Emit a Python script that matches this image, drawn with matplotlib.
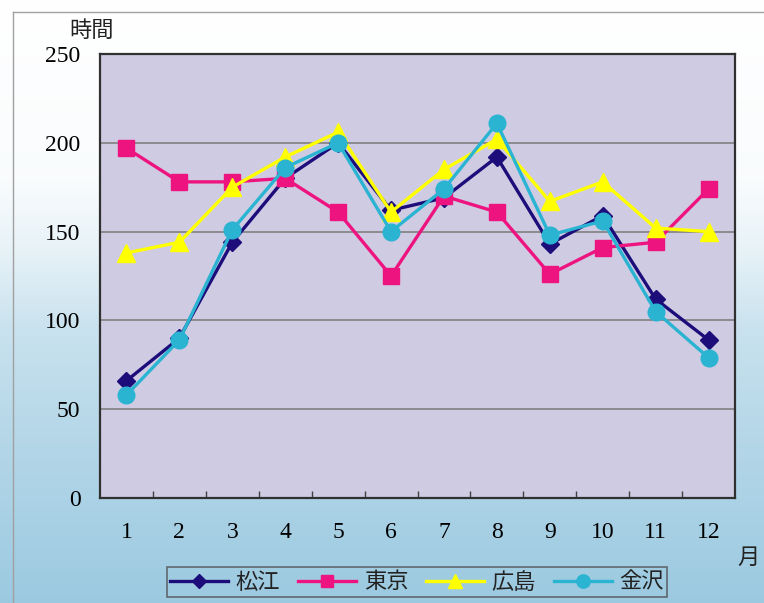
import numpy as np
import matplotlib
matplotlib.use("Agg")
import matplotlib.pyplot as plt

months = ["1", "2", "3", "4", "5", "6", "7", "8", "9", "10", "11", "12"]
matsue = [66, 90, 144, 180, 200, 162, 169, 192, 143, 159, 112, 89]
tokyo = [197, 178, 178, 180, 161, 125, 170, 161, 126, 141, 144, 174]
hiroshima = [138, 144, 175, 192, 206, 161, 185, 202, 167, 178, 152, 150]
kanazawa = [58, 89, 151, 186, 200, 150, 174, 211, 148, 156, 105, 79]
series_names = ["松江", "東京", "広島", "金沢"]
yticks = [0, 50, 100, 150, 200, 250]

JP = ["Noto Sans CJK JP", "DejaVu Sans"]
NUM = ["Liberation Serif", "DejaVu Serif"]

W, H = 764, 603
fig = plt.figure(figsize=(W / 100, H / 100), dpi=100)

# background gradient
bg = fig.add_axes([0, 0, 1, 1], zorder=-10)
bg.set_axis_off()
n = 300
t = np.linspace(0, 1, n)
f = np.interp(t, [0.0, 0.30, 0.42, 0.55, 0.70, 1.0], [0.0, 0.06, 0.25, 0.55, 0.72, 1.0])[:, None]
top = np.array([1.0, 1.0, 1.0])
bot = np.array([0.61, 0.79, 0.88])
img = top[None, None, :] * (1 - f[:, :, None]) + bot[None, None, :] * f[:, :, None]
img = np.repeat(img, 4, axis=1)
bg.imshow(img, aspect="auto", extent=[0, 1, 0, 1], origin="upper")
bg.set_xlim(0, 1)
bg.set_ylim(0, 1)
# outer frame
bg.plot([13 / W, 13 / W], [0, 1 - 12 / H], color="#a0a0a0", lw=1.0)
bg.plot([13 / W, 1], [1 - 12 / H, 1 - 12 / H], color="#a0a0a0", lw=1.0)

ax = fig.add_axes([100 / W, (H - 498) / H, 635 / W, 444 / H])
ax.set_facecolor("#cfcbe3")
x = np.arange(1, len(months) + 1)

ax.plot(x, matsue, color="#1c0d7a", lw=2.4, marker="D", ms=9, label=series_names[0], zorder=3)
ax.plot(x, tokyo, color="#ee1480", lw=2.4, marker="s", ms=11, label=series_names[1], zorder=3)
ax.plot(x, hiroshima, color="#ffff00", lw=2.4, marker="^", ms=13, label=series_names[2], zorder=3)
ax.plot(x, kanazawa, color="#2ab4d2", lw=2.4, marker="o", ms=12, label=series_names[3], zorder=3)

ax.set_xlim(0.5, len(months) + 0.5)
ax.set_ylim(0, 250)
ax.set_yticks(yticks)
ax.set_yticklabels([str(v) for v in yticks], fontsize=17, family=NUM)
ax.tick_params(axis="y", length=0, pad=14)
ax.set_xticks(x)
ax.set_xticklabels(months, fontsize=17, family=NUM)
ax.tick_params(axis="x", which="major", length=0, pad=17)
ax.set_xticks(np.arange(1.5, len(months), 1.0), minor=True)
ax.tick_params(axis="x", which="minor", direction="in", length=5, width=1, color="#404040")
ax.yaxis.grid(True, color="#808080", lw=1.2)
ax.set_axisbelow(True)
for s in ["top", "right", "left", "bottom"]:
    ax.spines[s].set_color("#303030")
    ax.spines[s].set_linewidth(1.6)

fig.text(92 / W, 1 - 30 / H, "時間", family=JP, fontsize=16, ha="center", va="center", color="#222222")
fig.text(748 / W, 1 - 557 / H, "月", family=JP, fontsize=16, ha="center", va="center", color="#222222")

leg = fig.legend(loc="center", bbox_to_anchor=(417 / W, 1 - 582 / H), ncol=4,
                 prop={"family": JP, "size": 16}, frameon=True, fancybox=False,
                 handlelength=2.6, columnspacing=0.8, handletextpad=0.35,
                 borderpad=0.15, markerscale=0.8)
leg.get_frame().set_facecolor("none")
leg.get_frame().set_edgecolor("#505050")
leg.get_frame().set_linewidth(1.2)
for txt in leg.get_texts():
    txt.set_color("#222222")

fig.savefig("out.png", dpi=100)
